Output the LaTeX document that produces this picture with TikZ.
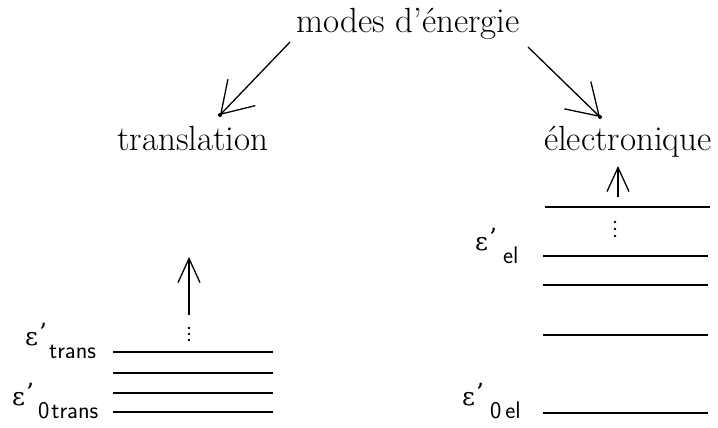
\documentclass[tikz,border=0pt]{standalone}
\usepackage{fontspec}
\usetikzlibrary{arrows.meta}
\newfontfamily\grkfont{DejaVu Serif}
\newcommand{\epsl}[2]{{\grkfont\fontsize{25}{25}\selectfont ε\kern1pt\raisebox{4pt}{’}}\kern#1\raisebox{-13pt}{\sffamily\fontsize{24}{24}\selectfont #2}}
\begin{document}
\begin{tikzpicture}[x=1pt,y=-1pt,
  title/.style={inner sep=0pt,anchor=base,font=\fontsize{35}{38}\selectfont},
  lvl/.style={line width=2.2pt},
  conn/.style={line width=1.3pt,-{Straight Barb[length=30pt,width=38pt,line width=1.3pt]}},
  up/.style={line width=1.3pt,-{Straight Barb[length=24pt,width=22pt,line width=1.3pt]}},
  elab/.style={inner sep=0pt,anchor=base west},
  dotc/.style={fill=black}]
\useasboundingbox (0,0) rectangle (718,428);
\node[title] (modes) at (408,33) {modes d'\'energie};
\node[title] (trans) at (193,150) {translation};
\node[title] (elec) at (628,150) {\'electronique};
\coordinate (tA) at (220,115);
\coordinate (eA) at (600,117);
\coordinate (mL) at (290,42);
\coordinate (mR) at (528,47);
\draw[conn] (mL) -- (tA);
\draw[conn] (mR) -- (eA);
\fill (tA) circle (2pt);
\fill (eA) circle (2pt);
% translation levels
\foreach \y in {352,373,393,412} \draw[lvl] (113,\y) -- (273,\y);
\coordinate (tu0) at (189,315);
\coordinate (tu1) at (189,257);
\draw[up] (tu0) -- (tu1);
\foreach \y in {328,334,340} \fill[dotc] (189,\y) circle (1.3pt);
\node[elab] (et) at (25,345) {\epsl{2pt}{trans}};
\node[elab] (e0t) at (12,405) {\epsl{4pt}{0\kern2pt trans}};
% electronic levels
\draw[lvl] (545,207) -- (710,207);
\foreach \y in {256,285,335,413} \draw[lvl] (543,\y) -- (708,\y);
\coordinate (eu0) at (618,197);
\coordinate (eu1) at (618,166);
\draw[up] (eu0) -- (eu1);
\foreach \y in {222,229,236} \fill[dotc] (615,\y) circle (1.3pt);
\node[elab] (eel) at (475,250) {\epsl{6pt}{el}};
\node[elab] (e0el) at (462,405) {\epsl{6pt}{0\kern4pt el}};
\end{tikzpicture}
\end{document}
